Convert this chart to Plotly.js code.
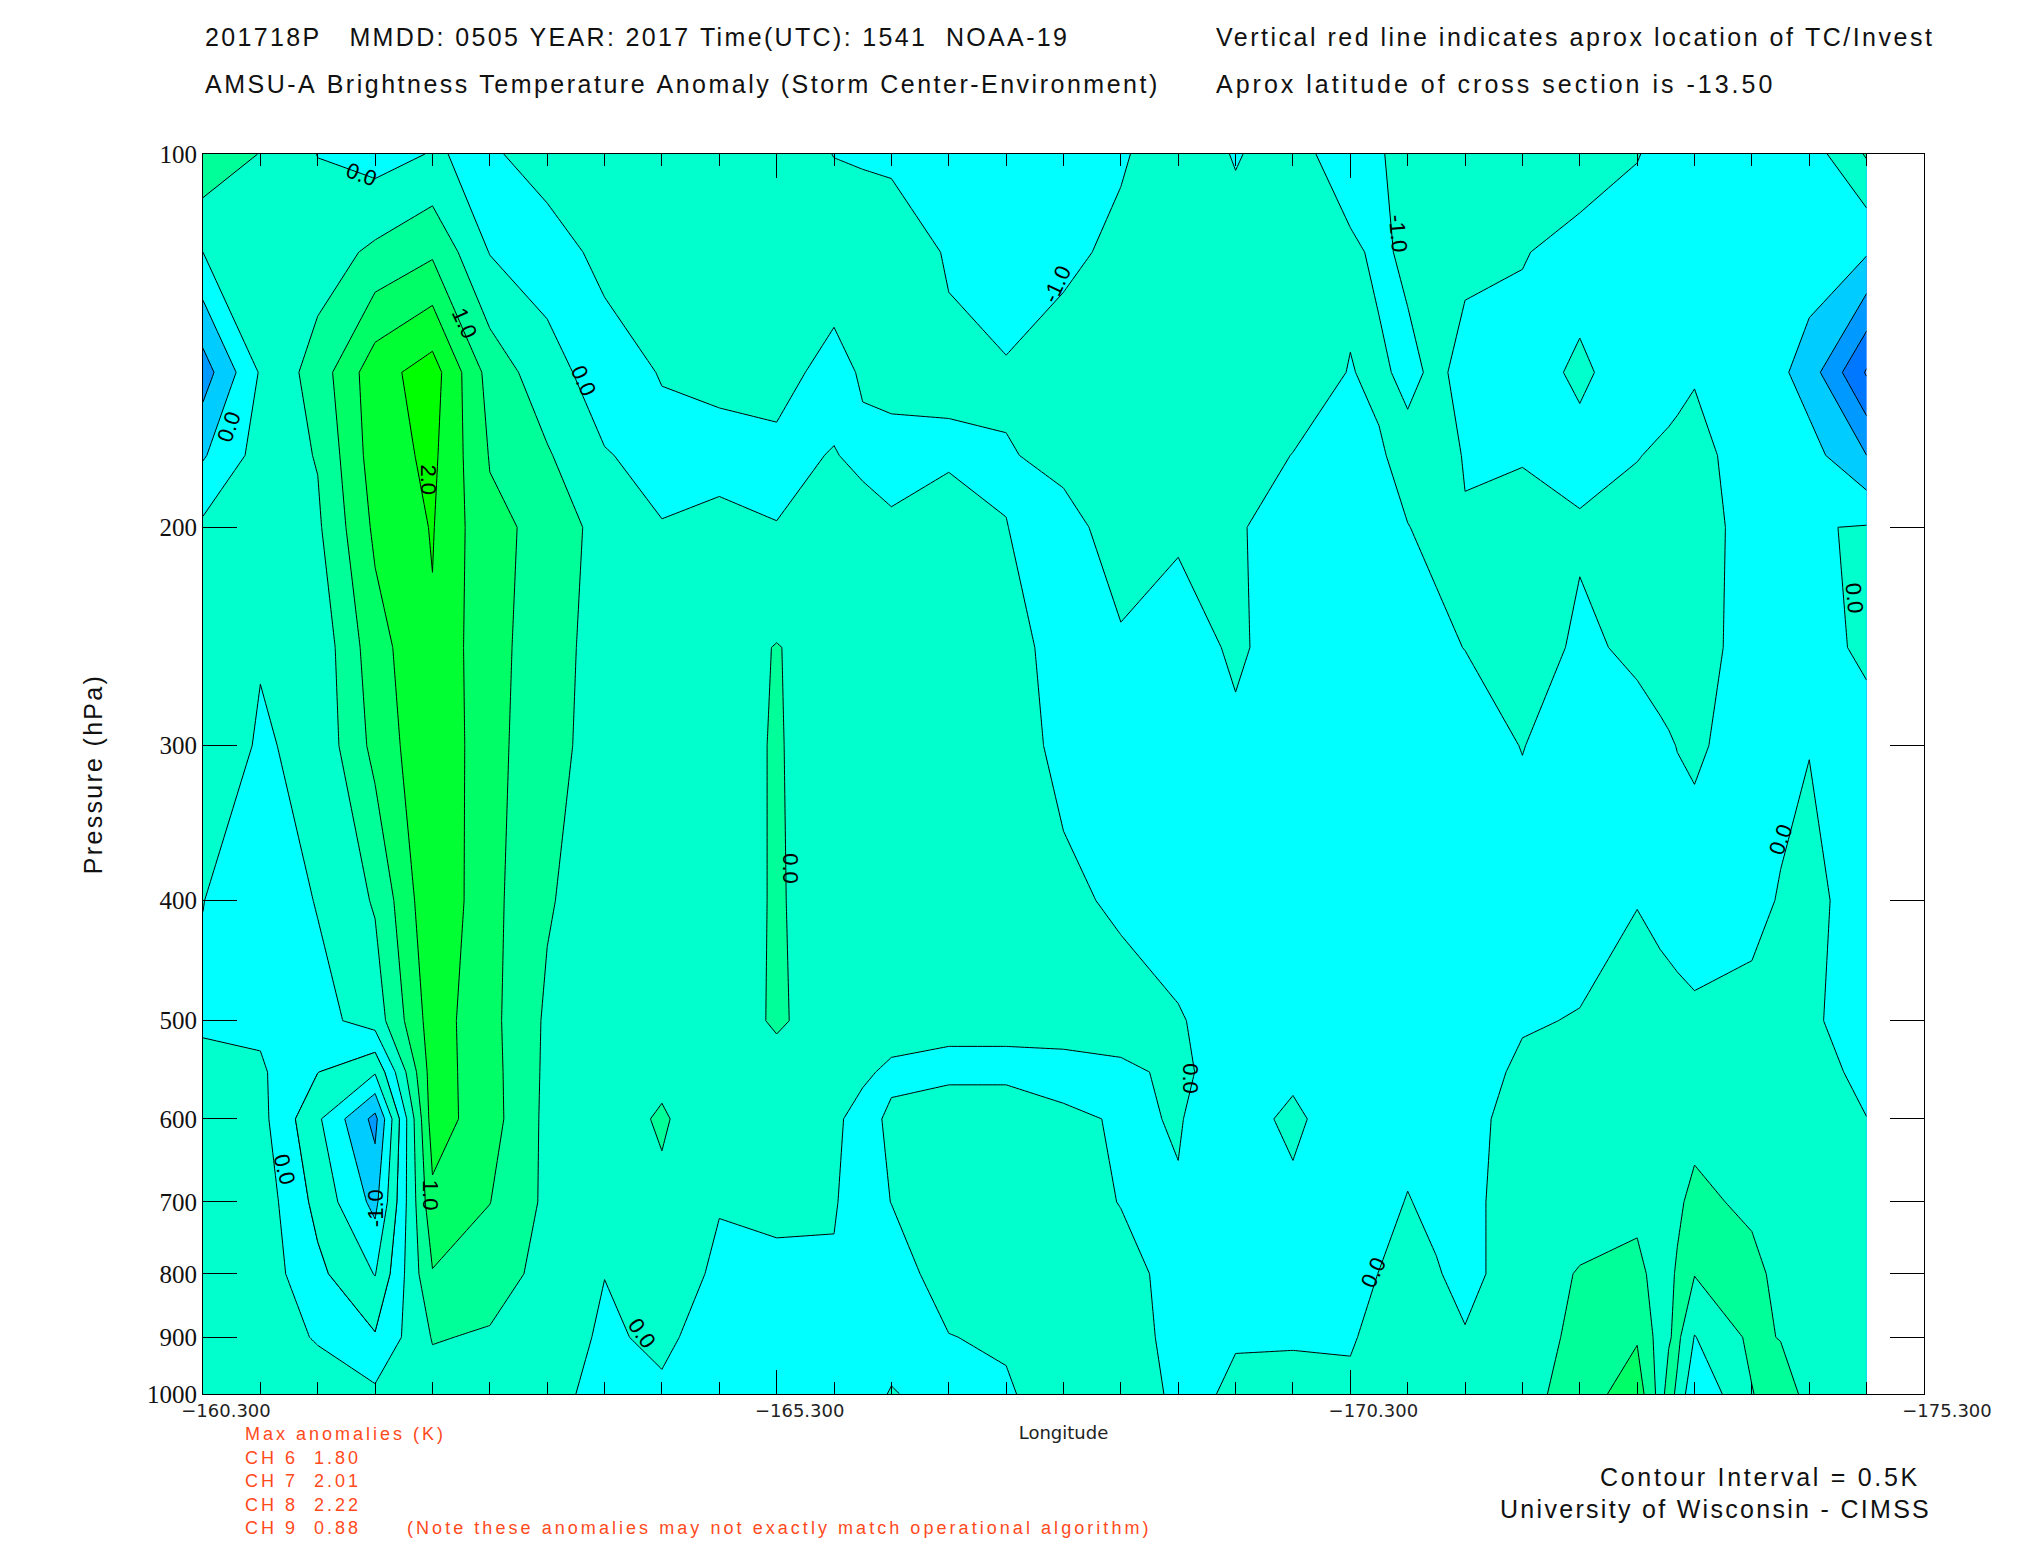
<!DOCTYPE html>
<html><head><meta charset="utf-8">
<script src="https://cdn.plot.ly/plotly-3.0.1.min.js"></script>
<style>html,body{margin:0;padding:0;background:#fff}</style>
</head><body><div id="chart" style="width:2025px;height:1550px"></div>
<script>
const pressure=[100,120,150,175,200,250,300,400,500,550,600,700,800,900,1000];
const lonIndex=[0,1,2,3,4,5,6,7,8,9,10,11,11.5,12,13,14,15,16,17,18,19,20,20.5,21,21.5,22,23,24,25,25.4,25.55,25.7,26,27,27.5,28,29];
const c00=[.9,0,-1.25,-.55,.1,.25,.3,.01,-.1,.2,.3,.35,.35,.35,.35];
const c01=[.48,.3,.05,.2,.3,.03,-.05,-.35,-.1,.07,.16,.3,.3,.3,.3];
const c02=[-.01,.25,.72,.53,.42,.15,.12,.03,-.17,-.49,-.92,-.65,-.38,-.05,.3];
const c03=[-.2,.6,1.8,1.75,1.6,1.3,1.15,.55,.22,-.95,-2.15,-1.65,-1.02,-.45,.1];
const c04=[.03,.92,2.23,2.11,2.03,1.95,1.95,1.93,1.75,1.75,1.75,1.38,.97,.53,.3];
const c05=[-.08,-.02,.8,.97,1.1,1.12,1.15,1.15,1.15,1.18,1.2,1.01,.72,.45,.3];
const c06=[.25,-.25,.2,.55,.89,.81,.7,.55,.42,.4,.38,.4,.35,.35,.2];
const c07=[.3,.15,-.25,.03,.26,.2,.25,.2,.3,.3,.3,.25,.01,-.1,-.2];
const c08=[.35,.25,.03,-.15,.02,.2,.25,.3,.25,.4,.55,.42,.3,.13,-.1];
const c09=[.35,.3,.15,-.2,.15,.3,.35,.25,.2,.25,.2,.03,-.1,-.3,-.3];
const c10=[.25,.25,.15,-.1,.01,.52,.53,.55,.57,.3,.2,.05,-.05,-.25,-.3];
const c11=[-.01,.25,-.15,.02,.25,.3,.3,.25,.25,.2,.1,.04,-.05,-.3,-.3];
const c11b=[-.05,.27,.05,-.09,.16,.3,.3,.3,.25,.1,-.2,-.25,-.3,-.3,-.3];
const c12=[-.1,.3,.2,-.2,.08,.25,.3,.3,.3,-.12,.1,.01,-.3,-.3,.05];
const c13=[-.3,-.05,.1,-.08,.26,.3,.3,.3,.15,-.15,.4,.35,.3,-.02,-.3];
const c14=[-.3,-.48,.08,-.03,.005,.3,.3,.3,.15,-.15,.4,.35,.35,.1,-.1];
const c15=[-.2,-.1,.2,.1,-.12,-.3,-.16,.13,.25,-.2,.1,.25,.35,.4,.45];
const c16=[-.05,.1,.3,.3,.15,-.04,-.3,-.1,.25,-.1,-.05,-.02,.2,.3,.3];
const c17=[.25,.3,.3,.25,.1,-.3,-.35,-.3,.05,.1,.02,-.02,-.2,-.2,-.1];
const c18=[-.03,.15,.3,.2,.05,.1,-.12,-.35,-.3,-.25,-.2,-.2,-.15,-.02,.05];
const c19=[.2,.3,.25,-.01,-.2,-.3,-.3,-.25,-.2,-.1,.1,-.1,-.2,-.03,.1];
const c20=[-.3,.1,-.02,-.1,-.3,-.35,-.35,-.3,-.3,-.3,-.3,-.3,-.2,-.05,.1];
const c20b=[-.05,-.1,.09,-.05,-.2,-.3,-.3,-.3,-.3,-.3,-.3,-.2,.01,.15,.25];
const c21=[.2,.1,-.12,.15,-.01,-.3,-.3,-.3,-.3,-.3,-.2,.03,.2,.3,.3];
const c21b=[.3,.3,.1,.2,.1,-.1,-.3,-.3,-.25,-.25,-.2,-.15,.05,.25,.3];
const c22=[.35,.1,-.15,-.03,.03,.01,-.3,-.35,-.3,-.25,-.25,-.2,-.2,.05,.3];
const c23=[.3,.05,-.3,-.03,.15,.3,.02,-.3,-.05,.1,.3,.35,.35,.3,.33];
const c24=[.45,-.3,.12,-.2,.07,-.1,-.35,-.25,.03,.25,.35,.35,.52,.6,.72];
const c25=[.02,-.2,-.35,-.02,.2,.1,-.2,-.02,.25,.3,.35,.4,.6,.95,1.3];
const c25b=[-.11,-.24,-.23,.07,.26,.18,-.08,-.13,.19,.28,.37,.4,.35,.3,.3];
const c25c=[-.16,-.26,-.19,.1,.28,.21,-.04,-.17,.17,.27,.38,.42,.44,.45,.7];
const c25d=[-.2,-.27,-.14,.13,.31,.24,.01,-.22,.15,.27,.39,.45,.53,.62,.4];
const c26=[-.3,-.3,-.05,.2,.35,.3,.1,-.3,.1,.25,.4,.58,.52,-.02,-.45];
const c27=[-.2,-.3,-.05,-.3,-.3,-.3,-.3,-.2,.2,.3,.35,.43,.6,.6,.48];
const c27b=[-.22,-.25,-.4,-.3,-.15,-.25,-.2,.05,.25,.3,.35,.38,.4,.48,.75];
const c28=[-.25,-.2,-.75,-.3,-.03,-.2,-.02,.2,.1,.3,.35,.35,.35,.3,.35];
const c29=[.55,-.45,-2.05,-1,.03,.1,-.2,-.35,-.3,-.2,.01,.3,.3,.3,.3];
const columns=[c00,c01,c02,c03,c04,c05,c06,c07,c08,c09,c10,c11,c11b,c12,c13,c14,c15,c16,c17,c18,c19,c20,c20b,c21,c21b,c22,c23,c24,c25,c25b,c25c,c25d,c26,c27,c27b,c28,c29];

const yTicks=[100,200,300,400,500,600,700,800,900,1000];
const xMajor=[-160.3,-165.3,-170.3,-175.3];
const xMajorText=['−160.300','−165.300','−170.300','−175.300'];
const xMinorStep=[];
for(let i=0;i<=30;i++){xMinorStep.push(+(-160.3-0.5*i).toFixed(1));}

const labelText=['0.0','1.0','2.0','0.0','0.0','-1.0','-1.0','0.0','0.0','0.0','0.0','0.0','-1.0','1.0','0.0','0.0'];
const labelLon=[-161.68,-162.58,-162.27,-163.62,-160.53,-167.74,-170.72,-174.69,-165.42,-174.05,-168.9,-161.01,-161.8,-162.28,-170.5,-164.13];
const labelP=[103.9,137,183,152.5,166,127.4,115.8,228,377,357,557,659,708,691,798,893];
const labelAngle=[20,65,90,65,-70,-65,85,85,90,-70,90,75,-90,90,-65,55];

// band fills, lowest to highest
const mainBands=['#0066ff','#0077ff','#0099ff','#00ccff','#00ffff','#00ffcc','#00ff99','#00ff66','#00ff33','#00ff00'];
// the cold blob at 600 hPa is tinted one band warmer; drawn from the negated field so only its core is painted
const blobBands=['rgba(0,0,0,0)','#00ffcc','#00ffff','#00ccff','#0099ff'];
function stepScale(b){
  const n=b.length-1, out=[];
  b.forEach((c,i)=>{
    const a=i===0?0:(i-.5)/n, e=i===n?1:(i+.5)/n;
    out.push([a,c]);out.push([e,c]);
  });
  return out;
}
const lons=lonIndex.map(i=>-160.3-0.5*i);
function rowsFrom(cols,sign){return pressure.map((p,r)=>cols.map(c=>sign*c[r]));}
const lineStyle={color:'#000',width:1,smoothing:0};
const traces=[
 {type:'contour',x:lons,y:pressure,z:rowsFrom(columns,1),colorscale:stepScale(mainBands),showscale:false,hoverinfo:'skip',
  zauto:false,zmin:-2,zmax:2,autocontour:false,contours:{coloring:'fill',showlines:true,start:-2,end:2,size:.5},line:lineStyle},
 {type:'contour',x:lons.slice(1,6),y:pressure,z:rowsFrom(columns.slice(1,6),-1),colorscale:stepScale(blobBands),showscale:false,hoverinfo:'skip',
  zauto:false,zmin:.5,zmax:2,autocontour:false,contours:{coloring:'fill',showlines:true,start:.5,end:2,size:.5},line:lineStyle}
];

const F='Liberation Sans';
const big={family:F,size:25,color:'#111'};
const red={family:F,size:18,color:'#ff4a1c'};
const notes=[
 {t:'201718P   MMDD: 0505 YEAR: 2017 Time(UTC): 1541  NOAA-19',x:203,y:37,f:big,ls:2.35},
 {t:'AMSU-A Brightness Temperature Anomaly (Storm Center-Environment)',x:203,y:84,f:big,ls:2.5},
 {t:'Vertical red line indicates aprox location of TC/Invest',x:1214,y:37,f:big,ls:2.5},
 {t:'Aprox latitude of cross section is -13.50',x:1214,y:84,f:big,ls:3.0},
 {t:'Max anomalies (K)',x:243,y:1434,f:red,ls:3},
 {t:'CH 6  1.80',x:243,y:1458,f:red,ls:3},
 {t:'CH 7  2.01',x:243,y:1481,f:red,ls:3},
 {t:'CH 8  2.22',x:243,y:1505,f:red,ls:3},
 {t:'CH 9  0.88',x:243,y:1528,f:red,ls:3},
 {t:'(Note these anomalies may not exactly match operational algorithm)',x:405,y:1528,f:red,ls:3.05},
 {t:'Contour Interval = 0.5K',x:1598,y:1477,f:big,ls:2.7},
 {t:'University of Wisconsin - CIMSS',x:1498,y:1509,f:big,ls:2.3}
];
const W=2025,H=1550;
const anns=notes.map(n=>({text:n.t.replace(/ /g,'\u00a0'),xref:'paper',yref:'paper',showarrow:false,xanchor:'left',yanchor:'middle',
   x:(n.x-203)/(1924-203),y:(1394-n.y)/(1394-154),font:n.f,align:'left'}));
labelText.forEach((t,i)=>anns.push({text:t,x:labelLon[i],y:Math.log10(labelP[i]),xref:'x',yref:'y',showarrow:false,
   textangle:labelAngle[i],font:{family:F,size:22,color:'#000'},xanchor:'center',yanchor:'middle'}));

const layout={width:W,height:H,margin:{l:203,r:101,t:154,b:156,pad:0},paper_bgcolor:'#fff',plot_bgcolor:'#fff',showlegend:false,
 xaxis:{type:'linear',range:[-160.3,-175.3],tickmode:'array',tickvals:xMajor,ticktext:xMajorText,ticks:'inside',ticklen:24,tickwidth:1,tickcolor:'#000',
   minor:{tickmode:'array',tickvals:xMinorStep,ticks:'inside',ticklen:12,tickwidth:1,tickcolor:'#000',showgrid:false},
   mirror:'ticks',showline:true,linecolor:'#000',linewidth:1,showgrid:false,zeroline:false,ticklabelshift:-23,
   tickfont:{family:'DejaVu Sans',size:18,color:'#222'},title:{text:'Longitude',font:{family:'DejaVu Sans',size:18,color:'#222'},standoff:6},automargin:false},
 yaxis:{type:'log',range:[3,2],tickmode:'array',tickvals:yTicks,ticktext:yTicks.map(String),ticks:'inside',ticklen:34,tickwidth:1,tickcolor:'#000',
   mirror:'ticks',showline:true,linecolor:'#000',linewidth:1,showgrid:false,zeroline:false,
   tickfont:{family:'Liberation Sans Narrow',size:25,color:'#111'},title:{text:'Pressure (hPa)',font:{family:F,size:25,color:'#111'},standoff:37},automargin:false},
 annotations:anns};
Plotly.newPlot('chart',traces,layout,{displayModeBar:false,staticPlot:true}).then(()=>{
  const els=document.querySelectorAll('.annotation-text');
  notes.forEach((n,i)=>{if(els[i])els[i].style.letterSpacing=n.ls+'px';});
  const yt=document.querySelector('.ytitle'); if(yt) yt.style.letterSpacing='2.3px';
});
</script></body></html>
